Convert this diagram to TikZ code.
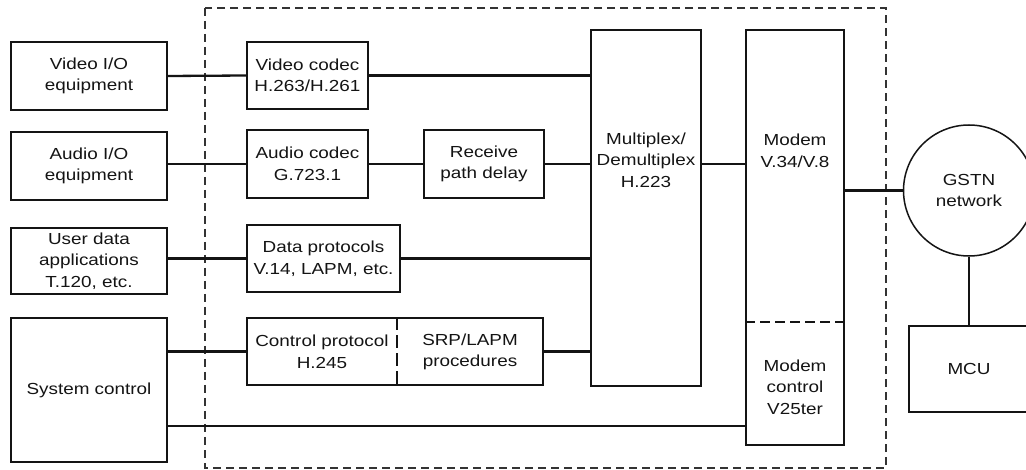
\documentclass[tikz,border=0pt]{standalone}
\usepackage{fontspec}
\setmainfont{Liberation Sans}[FakeStretch=1.18]
\usetikzlibrary{calc}
\definecolor{ink}{HTML}{141414}
\definecolor{frame}{HTML}{333333}
\tikzset{
  blk/.style={draw=ink, line width=1.5pt, inner sep=0pt, align=center,
    text=ink, font=\fontsize{16}{21.5}\selectfont},
  lnk/.style={draw=ink, line width=2.3pt},
  divider/.style={draw=ink, line width=2.4pt, dash pattern=on 10pt off 5pt},
  boundary/.style={draw=frame, line width=1.3pt, dash pattern=on 8pt off 5pt},
  lbl/.style={text=ink, align=center, inner sep=0pt, font=\fontsize{16}{21.5}\selectfont},
}
\begin{document}
\begin{tikzpicture}[x=1pt, y=-1pt]
\useasboundingbox (0,0) rectangle (1026,470);
\clip (0,0) rectangle (1026,470);
\fill[white] (0,0) rectangle (1026,470);

% H.324 terminal boundary
\draw[boundary] (205,8) rectangle (886,468);

% external equipment
\node[blk, minimum width=156pt, minimum height=68pt] (vio) at (89,76) {Video I/O\\equipment};
\node[blk, minimum width=156pt, minimum height=68pt] (aio) at (89,166) {Audio I/O\\equipment};
\node[blk, minimum width=156pt, minimum height=66pt] (uda) at (89,261) {User data\\applications\\T.120, etc.};
\node[blk, minimum width=156pt, minimum height=144pt] (sys) at (89,390) {System control};

% codecs and protocols
\node[blk, minimum width=121pt, minimum height=67pt] (vcod) at (307.5,75.5) {Video codec\\H.263/H.261};
\node[blk, minimum width=121pt, minimum height=68pt] (acod) at (307.5,164) {Audio codec\\G.723.1};
\node[blk, minimum width=120pt, minimum height=68pt] (rpd) at (484,164) {Receive\\path delay};
\node[blk, minimum width=153pt, minimum height=67pt] (dprot) at (323.5,258.5) {Data protocols\\V.14, LAPM, etc.};
\node[blk, minimum width=296pt, minimum height=67pt] (ctrl) at (395,351.5) {};
\node[lbl] (ctrltxt) at (322,352) {Control protocol\\H.245};
\node[lbl] (srptxt) at (470,352) {SRP/LAPM\\procedures};
\draw[divider, dash pattern=on 13pt off 5pt] ($(ctrl.north)+(2,0)$) -- ($(ctrl.south)+(2,0)$);

% multiplexer and modem
\node[blk, minimum width=110pt, minimum height=356pt] (mux) at (646,208) {};
\node[lbl] (muxtxt) at (646,160) {Multiplex/\\Demultiplex\\H.223};
\node[blk, minimum width=98pt, minimum height=415pt] (modem) at (795,237.5) {};
\node[lbl] (modemtxt) at (795,151) {Modem\\V.34/V.8};
\node[lbl] (mctltxt) at (795,387) {Modem\\control\\V25ter};
\draw[divider] ($(modem.west)+(0,84.5)$) -- ($(modem.east)+(0,84.5)$);

% network side
\node[blk, circle, minimum size=131pt] (gstn) at (969,190.5) {GSTN\\network};
\node[blk, minimum width=120pt, minimum height=86pt] (mcu) at (969,369) {MCU};

% connections
\draw[lnk] (vio.east) -- (vcod.west);
\draw[lnk] (vcod.east) -- (vcod.east -| mux.west);
\draw[lnk] (aio.east |- acod.west) -- (acod.west);
\draw[lnk] (acod.east) -- (rpd.west);
\draw[lnk] (rpd.east) -- (rpd.east -| mux.west);
\draw[lnk] (rpd.east -| mux.east) -- (rpd.east -| modem.west);
\draw[lnk] (uda.east |- dprot.west) -- (dprot.west);
\draw[lnk] (dprot.east) -- (dprot.east -| mux.west);
\draw[lnk] (ctrl.west -| sys.east) -- (ctrl.west);
\draw[lnk] (ctrl.east) -- (ctrl.east -| mux.west);
\coordinate (sysb) at ($(sys.east)+(0,36)$);
\draw[lnk] (sysb) -- (sysb -| modem.west);
\draw[lnk] (gstn.west -| modem.east) -- (gstn.west);
\draw[lnk] (gstn.south) -- (mcu.north);
\end{tikzpicture}
\end{document}
